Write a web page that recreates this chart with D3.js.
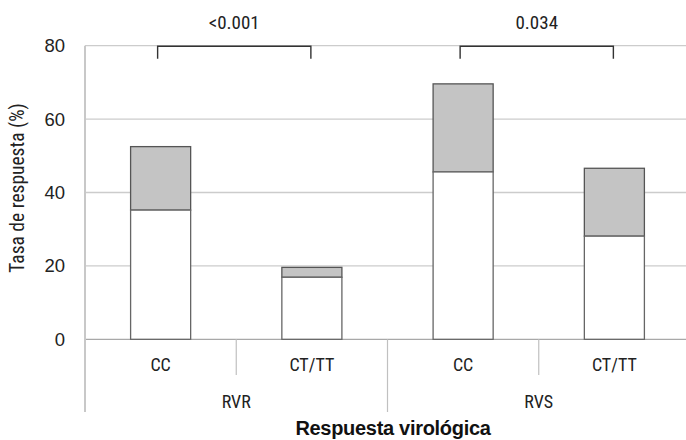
<!DOCTYPE html>
<html><head><meta charset="utf-8">
<script src="https://cdn.jsdelivr.net/npm/d3@7"></script>
<style>
html,body{margin:0;padding:0;background:#fff;}
svg{display:block;font-family:"Liberation Sans Narrow","Roboto Condensed","DejaVu Sans Condensed",sans-serif;}
</style></head>
<body><svg id="c" width="686" height="440"></svg>
<script>
// Data
const groups = ["RVR", "RVS"];
const genotypes = ["CC", "CT/TT"];
const categories = ["RVR|CC", "RVR|CT/TT", "RVS|CC", "RVS|CT/TT"];
const lowerValues = [35.2, 16.9, 45.6, 28.1];   // white segment
const totalValues = [52.5, 19.6, 69.6, 46.6];   // top of grey segment
const yTicks = [0, 20, 40, 60, 80];
const pLabels = ["<0.001", "0.034"];
const yTitle = "Tasa de respuesta (%)";
const xTitle = "Respuesta virológica";

(function () {
const svg = d3.select("#c");
const pLeft = 85, pRight = 690, pTop = 45.7, pBottom = 339.3;

const x = d3.scaleBand().domain(categories).range([pLeft, pRight])
  .paddingInner(0.603).paddingOuter(0.3015);
const y = d3.scaleLinear().domain([0, 80]).range([pBottom, pTop]);
const step = x.step();

// gridlines
svg.append("g").selectAll("line").data(yTicks).join("line")
  .attr("x1", pLeft).attr("x2", 686)
  .attr("y1", d => y(d)).attr("y2", d => y(d))
  .attr("stroke", d => d === 0 ? "#a8a8a8" : "#cccccc").attr("stroke-width", 1.3);

// y axis
const ya = svg.append("g").attr("transform", `translate(${pLeft},0)`)
  .call(d3.axisLeft(y).tickValues(yTicks).tickSize(0).tickPadding(20));
ya.select(".domain").remove();
ya.selectAll("text").attr("font-size", 18.5).attr("fill", "#222")
  .attr("font-family", "inherit");

// vertical axis line (extends below for category table)
svg.append("line").attr("x1", pLeft).attr("x2", pLeft)
  .attr("y1", pTop).attr("y2", 412).attr("stroke", "#c8c8c8").attr("stroke-width", 2);

// bars
const data = categories.map((c, i) => ({c, lo: lowerValues[i], hi: totalValues[i]}));
const bars = svg.append("g");
bars.selectAll("rect.topseg").data(data).join("rect").attr("class", "topseg")
  .attr("x", d => x(d.c)).attr("width", x.bandwidth())
  .attr("y", d => y(d.hi)).attr("height", d => y(d.lo) - y(d.hi))
  .attr("fill", "#c4c4c4").attr("stroke", "#555").attr("stroke-width", 1.3);
bars.selectAll("rect.low").data(data).join("rect").attr("class", "low")
  .attr("x", d => x(d.c)).attr("width", x.bandwidth())
  .attr("y", d => y(d.lo)).attr("height", d => y(0) - y(d.lo))
  .attr("fill", "#fff").attr("stroke", "#666").attr("stroke-width", 1.3);

// category labels
const cx = c => x(c) + x.bandwidth() / 2;
svg.append("g").selectAll("text").data(categories).join("text")
  .attr("x", d => cx(d)).attr("y", 371).attr("text-anchor", "middle")
  .attr("font-size", 18).attr("fill", "#222")
  .text(d => d.split("|")[1]);

// inner separators (between genotypes within group)
const inner = [0, 2].map(i => x(categories[i]) + x.bandwidth() / 2 + step / 2);
svg.append("g").selectAll("line").data(inner).join("line")
  .attr("x1", d => d).attr("x2", d => d).attr("y1", pBottom).attr("y2", 375)
  .attr("stroke", "#c0c0c0").attr("stroke-width", 1.2);
// group separator
const gsep = x(categories[2]) - (step - x.bandwidth()) / 2;
svg.append("line").attr("x1", gsep).attr("x2", gsep).attr("y1", pBottom).attr("y2", 412)
  .attr("stroke", "#c0c0c0").attr("stroke-width", 1.2);

// group labels
svg.append("g").selectAll("text").data(groups).join("text")
  .attr("x", (d, i) => (cx(categories[2 * i]) + cx(categories[2 * i + 1])) / 2)
  .attr("y", 408).attr("text-anchor", "middle")
  .attr("font-size", 18).attr("fill", "#222").text(d => d);

// brackets
groups.forEach((g, i) => {
  const x1 = cx(categories[2 * i]) - 3, x2 = cx(categories[2 * i + 1]) - 1;
  const by = y(80) + 0.5;
  svg.append("path")
    .attr("d", `M${x1},${by + 12.5}V${by}H${x2}V${by + 12.5}`)
    .attr("fill", "none").attr("stroke", "#333").attr("stroke-width", 1.4);
  svg.append("text").attr("x", (x1 + x2) / 2).attr("y", 29)
    .attr("text-anchor", "middle").attr("font-size", 19).attr("fill", "#222")
    .text(pLabels[i]);
});

// y title
svg.append("text").attr("transform", `translate(24,188) rotate(-90)`)
  .attr("text-anchor", "middle").attr("font-size", 19.5).attr("fill", "#222")
  .text(yTitle);

// x title
svg.append("text").attr("x", 393).attr("y", 435).attr("text-anchor", "middle")
  .attr("font-family", "'Liberation Sans', Arial, sans-serif")
  .attr("font-size", 20).attr("font-weight", "bold").attr("fill", "#111")
  .attr("letter-spacing", -0.3)
  .text(xTitle);
})();
</script></body></html>
